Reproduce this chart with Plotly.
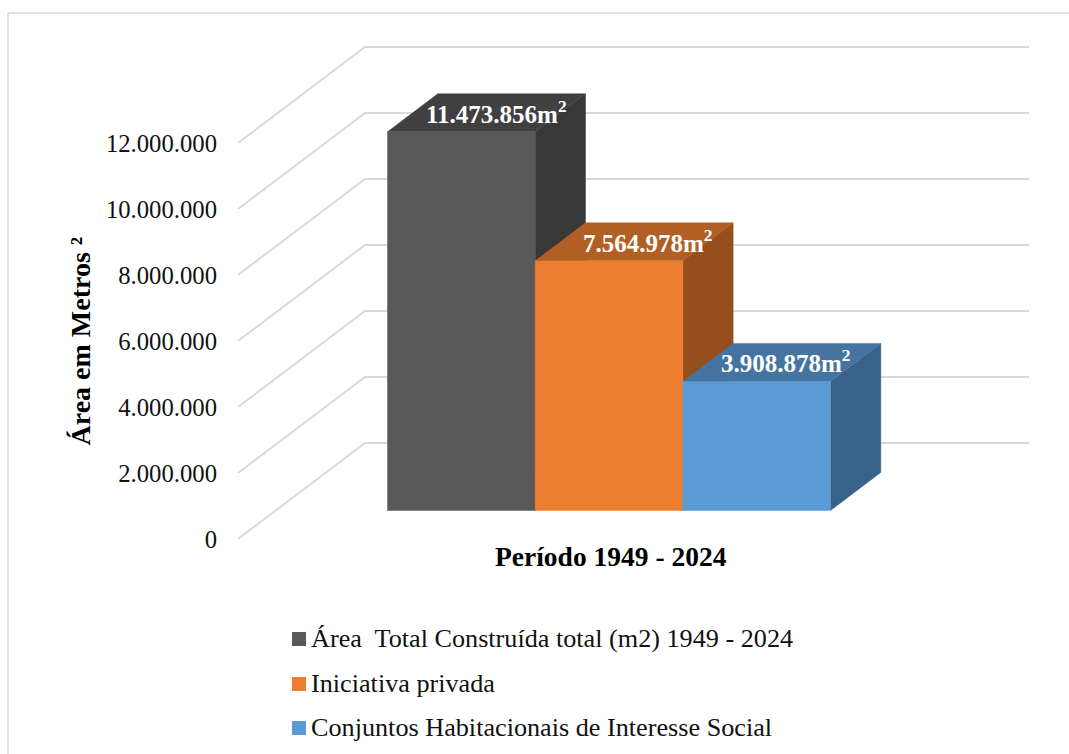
import plotly.graph_objects as go

# ---- data ----
series_names = [
    "Área\u00a0 Total Construída total (m2) 1949 - 2024",
    "Iniciativa privada",
    "Conjuntos Habitacionais de Interesse Social",
]
series_values = [11473856, 7564978, 3908878]
axis_ticks = [0, 2000000, 4000000, 6000000, 8000000, 10000000, 12000000]
category_label = "Período 1949 - 2024"
value_title = "Área em Metros ²"

# ---- styles ----
front_colors = ["#595959", "#ED7D31", "#5B9BD5"]
top_colors = ["#404040", "#B25F25", "#44749F"]
side_colors = ["#383838", "#964F1C", "#39628A"]
GRID = "#D9D9D9"
SERIF = "Liberation Serif"

# ---- layout geometry ----
W, H = 1069, 754
LEFT = 218           # left edge of the plot area, px
BAR_PX = 147.67      # px per category-width unit
Y0_PX = 539          # px of value 0 on the front wall edge
PX_PER_VALUE = 33e-6 # px per value unit
X0_PX = 238          # px of x = 0
DEPTH_DX = 127 / BAR_PX
DEPTH_DV = 96 / PX_PER_VALUE
X_END = 4.497
GAP = 0.757
DEPTH_GAP = 0.297
DEPTH_BAR = 0.396


def project(x, d, v):
    """Oblique projection of (category position, depth 0-1, value) on the 2D axes."""
    return x + d * DEPTH_DX, v + d * DEPTH_DV


def face(points):
    xs, ys = zip(*[project(*p) for p in points])
    return list(xs) + [xs[0]], list(ys) + [ys[0]]


def x_from_px(px):
    return (px - X0_PX) / BAR_PX


def v_from_px(py):
    return (Y0_PX - py) / PX_PER_VALUE


fig = go.Figure()

# walls' gridlines
for tick in axis_ticks:
    pts = [project(0, 0, tick), project(0, 1, tick), project(X_END, 1, tick)]
    fig.add_trace(go.Scatter(x=[p[0] for p in pts], y=[p[1] for p in pts], mode="lines",
                             line=dict(color=GRID, width=2), hoverinfo="skip", showlegend=False))

# bars
annotations = []
label_nudge_px = [10, 14, 4]
d0, d1 = DEPTH_GAP, DEPTH_GAP + DEPTH_BAR
for i, value in enumerate(series_values):
    x0, x1 = GAP + i, GAP + i + 1
    side = face([(x1, d0, 0), (x1, d1, 0), (x1, d1, value), (x1, d0, value)])
    top = face([(x0, d0, value), (x1, d0, value), (x1, d1, value), (x0, d1, value)])
    front = face([(x0, d0, 0), (x1, d0, 0), (x1, d0, value), (x0, d0, value)])
    for (xs, ys), col in ((side, side_colors[i]), (top, top_colors[i]), (front, front_colors[i])):
        fig.add_trace(go.Scatter(x=xs, y=ys, mode="lines", fill="toself", fillcolor=col,
                                 line=dict(color=col, width=0.5), name=series_names[i],
                                 hoverinfo="name", showlegend=False))
    lx, ly = project((x0 + x1) / 2, (d0 + d1) / 2, value)
    annotations.append(dict(
        x=lx, y=ly, xref="x", yref="y", showarrow=False, xshift=label_nudge_px[i], yshift=1,
        text="<b>" + f"{value:,}".replace(",", ".") + "m<sup>2</sup></b>",
        font=dict(family=SERIF, size=25, color="white"),
    ))

# legend drawn as square markers with real text beside them
legend_rows_px = [639, 684, 728]
fig.add_trace(go.Scatter(
    x=[x_from_px(299)] * 3, y=[v_from_px(p) for p in legend_rows_px], mode="markers",
    marker=dict(symbol="square", size=14, color=front_colors, line=dict(width=0)),
    hoverinfo="skip", showlegend=False,
))
fig.add_trace(go.Scatter(
    x=[x_from_px(311)] * 3, y=[v_from_px(p + 1.5) for p in legend_rows_px], mode="text",
    text=series_names, textposition="middle right",
    textfont=dict(family=SERIF, size=26.2, color="#111111"),
    hoverinfo="skip", showlegend=False,
))

annotations.append(dict(
    x=x_from_px(611), y=v_from_px(556), xref="x", yref="y", showarrow=False,
    text="<b>" + category_label + "</b>",
    font=dict(family=SERIF, size=27.5, color="#000000"),
))
annotations.append(dict(
    x=62 / W, y=1 - 341 / H, xref="paper", yref="paper", showarrow=False, textangle=-90,
    text="<b>" + value_title + "</b>",
    font=dict(family=SERIF, size=28, color="#000000"),
))

frame = dict(color="#D9D9D9", width=1.5)
fig.update_layout(
    width=W, height=H, margin=dict(l=0, r=0, t=0, b=0),
    paper_bgcolor="white", plot_bgcolor="white", showlegend=False,
    separators=",.",
    xaxis=dict(domain=[LEFT / W, 1], range=[x_from_px(LEFT), x_from_px(W)], visible=False, fixedrange=True),
    yaxis=dict(range=[v_from_px(H), v_from_px(0)], tickvals=axis_ticks, tickformat=",d",
               showgrid=False, zeroline=False, showline=False, ticks="", fixedrange=True,
               tickfont=dict(family=SERIF, size=24.7, color="#111111")),
    annotations=annotations,
    shapes=[
        dict(type="line", xref="paper", yref="paper", x0=8 / W, x1=1, y0=1 - 13 / H, y1=1 - 13 / H, line=frame),
        dict(type="line", xref="paper", yref="paper", x0=8 / W, x1=8 / W, y0=1 - 13 / H, y1=0, line=frame),
    ],
)

fig.write_html("out.html", post_script="document.body.style.margin='0';document.body.style.overflow='hidden';",
               config=dict(displayModeBar=False))
